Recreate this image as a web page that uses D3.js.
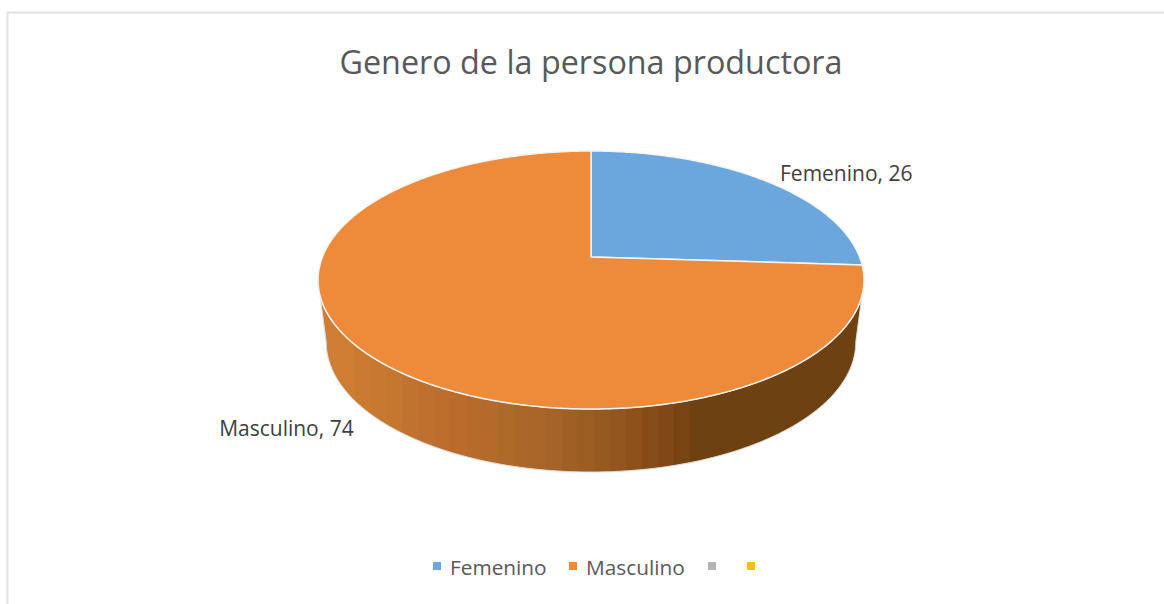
<!DOCTYPE html>
<html>
<head>
<meta charset="utf-8">
<title>Genero de la persona productora</title>
<script src="https://cdn.jsdelivr.net/npm/d3@7"></script>
<style>
	html, body { margin: 0; padding: 0; background: #fff; overflow: hidden; }
	text { font-family: "Open Sans", sans-serif; }
</style>
</head>
<body>
<div id="chart-area"></div>
<script>
// data
var categories = ["Femenino", "Masculino", "", ""];
var values = [26, 74, 0, 0];
var colors = ["#6ba7dc", "#ed8b3b", "#b5b5b5", "#ffc000"];
var titleText = "Genero de la persona productora";

// shading of the front wall, left to right (rough bands as in the 3d render)
var wallShades = ["#d07e35", "#cf7d33", "#cb7a32", "#c97831", "#c6772e", "#c0732f", "#bf702e", "#bd6e2d",
	"#bb6c2c", "#b76b2b", "#b36a2a", "#ae6a29", "#ab6729", "#a96628", "#a5632a", "#a06025",
	"#9b5d22", "#955a20", "#93561e", "#8e511c", "#854b19", "#804817", "#794413", "#6d4110"];

var width = 1164, height = 604;

var svg = d3.select("#chart-area")
	.append("svg")
		.attr("width", width)
		.attr("height", height)
		.style("display", "block");

// frame, only top and left show in the crop
svg.append("path")
	.attr("d", "M7.5," + height + "V12.5H" + width)
	.attr("fill", "none")
	.attr("stroke", "#e2e2e2")
	.attr("stroke-width", 2);

// title
svg.append("text")
	.attr("x", 591)
	.attr("y", 74)
	.attr("text-anchor", "middle")
	.attr("font-size", "32px")
	.attr("fill", "#595959")
	.attr("textLength", 503)
	.attr("lengthAdjust", "spacingAndGlyphs")
	.text(titleText);

// pie in perspective: apex is not halfway between far and near rim
var cx = 591, apexY = 257, R = 268.6, persp = 0.1783, vScale = 124.9;
var rimTurn = 0.179; // angle past 3 o'clock where the rim is widest
var depth = {cy: 342, topCy: 280, sx: 0.97, sy: 1.008};

function project(angle){
	var u = Math.sin(angle), v = -Math.cos(angle), w = 1 - persp * v;
	return [cx + R * u / w, apexY + vScale * v / w];
}

function projectLow(angle){
	var p = project(angle);
	return [cx + (p[0] - cx) * depth.sx, depth.cy + (p[1] - depth.topCy) * depth.sy];
}

function sampleAngles(a0, a1){
	var n = Math.max(2, Math.ceil((a1 - a0) / 0.01));
	return d3.range(n + 1).map(function(i){ return a0 + (a1 - a0) * i / n; });
}

var pie = d3.pie().sort(null).value(function(d){ return d; });
var arcs = pie(values);
var line = d3.line();

// wall
var defs = svg.append("defs");
var xWall = d3.scaleLinear().domain([0, wallShades.length]).range([322, 706]);
var wallGrad = defs.append("linearGradient")
	.attr("id", "wall")
	.attr("gradientUnits", "userSpaceOnUse")
	.attr("x1", xWall(0)).attr("x2", xWall(wallShades.length))
	.attr("y1", 0).attr("y2", 0);

wallShades.forEach(function(c, i){
	wallGrad.append("stop").attr("offset", i / wallShades.length).attr("stop-color", c);
	wallGrad.append("stop").attr("offset", (i + 1) / wallShades.length).attr("stop-color", c);
});

// front half of the rim: from the right extreme round to the left extreme
var front = sampleAngles(Math.PI / 2 + rimTurn, 3 * Math.PI / 2 - rimTurn);
var wallPts = front.map(project).concat(front.slice().reverse().map(projectLow));

svg.append("path")
	.attr("d", line(wallPts) + "Z")
	.attr("fill", "url(#wall)")
	.attr("stroke", "#dcdcdc")
	.attr("stroke-width", 1);

// top face
arcs.filter(function(d){ return d.value > 0; }).forEach(function(d){
	var pts = [[cx, apexY]].concat(sampleAngles(d.startAngle, d.endAngle).map(project));
	svg.append("path")
		.attr("d", line(pts) + "Z")
		.attr("fill", colors[d.index])
		.attr("stroke", "#f4f4f4")
		.attr("stroke-width", 1.5)
		.attr("stroke-linejoin", "round");
});

// data labels, placed off the middle of each slice
var femMid = project((arcs[0].startAngle + arcs[0].endAngle) / 2);
var masMid = projectLow((arcs[1].startAngle + arcs[1].endAngle) / 2);

svg.append("text")
	.attr("x", femMid[0] + 14.5)
	.attr("y", femMid[1])
	.attr("font-size", "21px")
	.attr("fill", "#404040")
	.text(categories[0] + ", " + values[0]);

svg.append("text")
	.attr("x", masMid[0] - 21)
	.attr("y", masMid[1] + 19.5)
	.attr("text-anchor", "end")
	.attr("font-size", "21px")
	.attr("fill", "#404040")
	.text(categories[1] + ", " + values[1]);

// legend
var legendX = [433, 569, 708, 747];
categories.forEach(function(name, i){
	svg.append("rect")
		.attr("x", legendX[i])
		.attr("y", 562)
		.attr("width", 8)
		.attr("height", 8)
		.attr("fill", colors[i]);
	if (name) {
		svg.append("text")
			.attr("x", legendX[i] + 17)
			.attr("y", 575)
			.attr("font-size", "20.8px")
			.attr("fill", "#595959")
			.text(name);
	}
});
</script>
</body>
</html>
